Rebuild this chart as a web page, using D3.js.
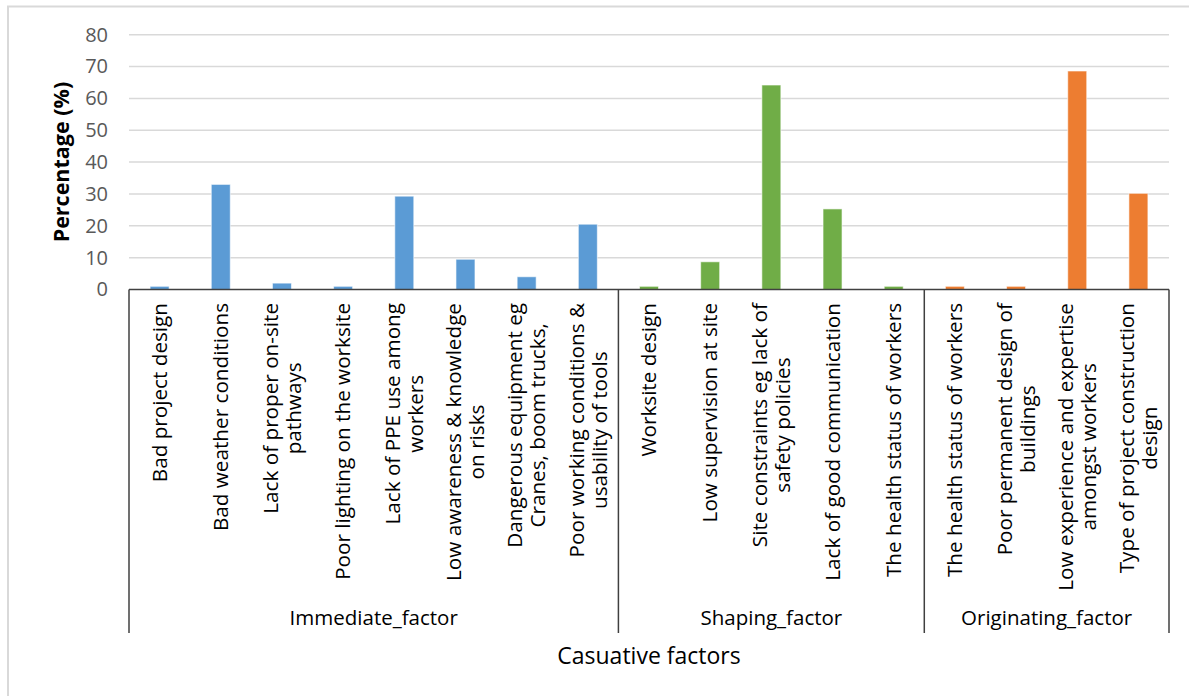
<!DOCTYPE html>
<html><head><meta charset="utf-8">
<script src="https://cdn.jsdelivr.net/npm/d3@7"></script>
<style>
html,body{margin:0;padding:0;background:#fff;}
svg{display:block;font-family:"Open Sans", Lato, sans-serif;}
</style></head>
<body>
<svg id="chart" width="1189" height="696"></svg>
<script>
// ---- data ----
const categories = [
  ["Bad project design"],
  ["Bad weather conditions"],
  ["Lack of proper on-site", "pathways"],
  ["Poor lighting on the worksite"],
  ["Lack of PPE use among", "workers"],
  ["Low awareness & knowledge", "on risks"],
  ["Dangerous equipment eg", "Cranes, boom trucks,"],
  ["Poor working conditions &", "usability of tools"],
  ["Worksite design"],
  ["Low supervision at site"],
  ["Site constraints eg lack of", "safety policies"],
  ["Lack of good communication"],
  ["The health status of workers"],
  ["The health status of workers"],
  ["Poor permanent design of", "buildings"],
  ["Low experience and expertise", "amongst workers"],
  ["Type of project construction", "design"]
];
const values = [1, 33, 2, 1, 29.3, 9.5, 4, 20.5, 1, 8.7, 64.2, 25.3, 1, 1, 1, 68.6, 30.2];
const groupNames = ["Immediate_factor", "Shaping_factor", "Originating_factor"];
const groupSizes = [8, 5, 4];
const groupColors = ["#5B9BD5", "#70AD47", "#ED7D31"];
const yTicks = [0, 10, 20, 30, 40, 50, 60, 70, 80];

(function () {
const svg = d3.select("#chart");
const pLeft = 129, pRight = 1169, pTop = 34.7, pBottom = 289.5, axisBottom = 633;
const FONT = "'Open Sans', Lato, sans-serif";

svg.append("rect").attr("x", 8).attr("y", 6.5).attr("width", 1200).attr("height", 720)
  .attr("fill", "#fff").attr("stroke", "#D9D9D9").attr("stroke-width", 2);

const idx = d3.range(categories.length);
const x = d3.scaleBand().domain(idx).range([pLeft, pRight]).paddingInner(0).paddingOuter(0);
const y = d3.scaleLinear().domain([0, 80]).range([pBottom, pTop]);

const groupOf = [];
groupSizes.forEach((n, g) => { for (let i = 0; i < n; i++) groupOf.push(g); });

// gridlines
svg.append("g").selectAll("line").data(yTicks.filter(d => d > 0)).join("line")
  .attr("x1", pLeft).attr("x2", pRight)
  .attr("y1", d => y(d)).attr("y2", d => y(d))
  .attr("stroke", "#D9D9D9").attr("stroke-width", 1.5);

// y axis labels
const yAxis = d3.axisLeft(y).tickValues(yTicks).tickSize(0).tickPadding(21);
const gy = svg.append("g").attr("transform", `translate(${pLeft},0)`).call(yAxis);
gy.select(".domain").remove();
gy.selectAll("text").attr("font-size", 20).attr("fill", "#595959")
  .attr("font-family", FONT);

// bars
const bw = 19;
svg.append("g").selectAll("rect").data(idx).join("rect")
  .attr("x", i => x(i) + x.bandwidth() / 2 - bw / 2)
  .attr("width", bw)
  .attr("y", i => y(values[i]))
  .attr("height", i => y(0) - y(values[i]))
  .attr("fill", i => groupColors[groupOf[i]])
  .attr("stroke", "rgba(255,255,255,0.6)").attr("stroke-width", 1);

// x axis line
svg.append("line").attr("x1", pLeft).attr("x2", pRight).attr("y1", pBottom).attr("y2", pBottom)
  .attr("stroke", "#404040").attr("stroke-width", 1.5);

// group separators
let acc = 0;
const seps = [0];
groupSizes.forEach(n => { acc += n; seps.push(acc); });
const sepX = k => k === categories.length ? pRight : x(k);
svg.append("g").selectAll("line").data(seps).join("line")
  .attr("x1", sepX).attr("x2", sepX)
  .attr("y1", pBottom).attr("y2", axisBottom)
  .attr("stroke", "#404040").attr("stroke-width", 1.5);

// category labels
const labelTop = pBottom + 13.5;
const lineH = 23;
const catG = svg.append("g");
idx.forEach(i => {
  const lines = categories[i];
  const cx = x(i) + x.bandwidth() / 2;
  const g = catG.append("g");
  const texts = lines.map(ln => g.append("text").text(ln)
    .attr("font-size", 20.7).attr("fill", "#000").attr("font-family", FONT)
    .attr("text-anchor", "middle").attr("dy", "0.35em"));
  const maxLen = d3.max(texts, t => t.node().getComputedTextLength());
  const n = lines.length;
  texts.forEach((t, j) => {
    const off = (j - (n - 1) / 2) * lineH;
    t.attr("transform", `translate(${cx + off},${labelTop + maxLen / 2}) rotate(-90)`);
  });
});

// group labels
svg.append("g").selectAll("text").data(groupNames).join("text")
  .attr("x", (d, g) => (sepX(seps[g]) + sepX(seps[g + 1])) / 2)
  .attr("y", 625)
  .attr("text-anchor", "middle").attr("font-size", 20.5).attr("fill", "#000")
  .attr("font-family", FONT)
  .text(d => d);

// axis titles
svg.append("text").attr("x", 649).attr("y", 664).attr("text-anchor", "middle")
  .attr("font-size", 23).attr("fill", "#000").attr("font-family", FONT).text("Casuative factors");
svg.append("text").attr("transform", `translate(69,${(pTop + pBottom) / 2}) rotate(-90)`)
  .attr("text-anchor", "middle").attr("font-size", 21.5).attr("font-weight", "bold").attr("fill", "#000")
  .attr("font-family", FONT)
  .text("Percentage (%)");
})();
</script>
</body></html>
